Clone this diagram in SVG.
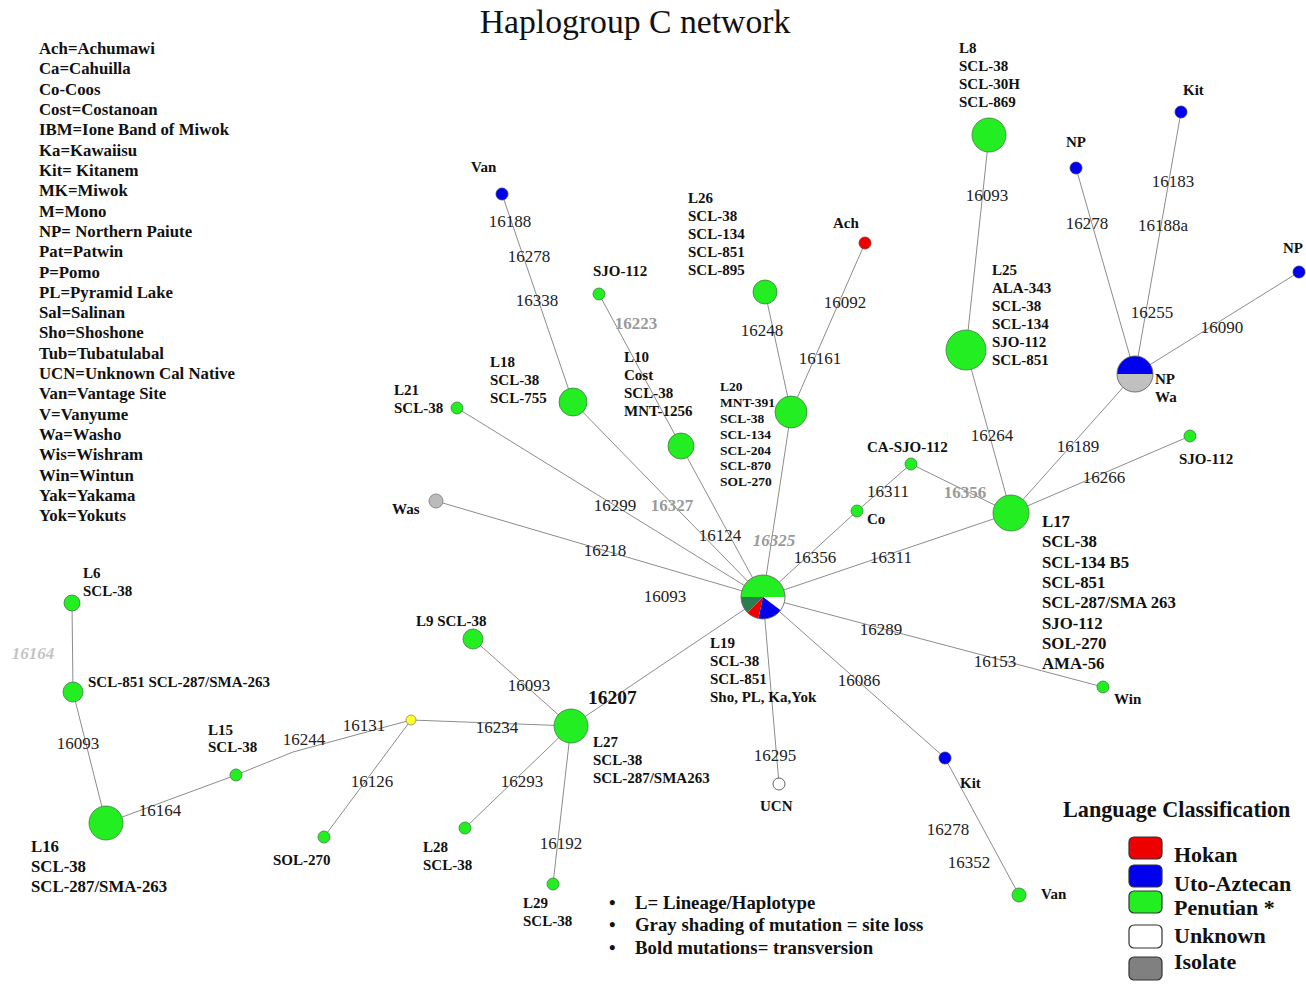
<svg xmlns="http://www.w3.org/2000/svg" width="1306" height="984" viewBox="0 0 1306 984">
<style>
text{font-family:"Liberation Serif","Times New Roman",serif;fill:#111}
.title{font-size:33.7px;text-anchor:middle}
.key{font-size:16.8px;font-weight:bold}
.t{font-size:15px;font-weight:bold}
.t13{font-size:13.5px;font-weight:bold}
.t16{font-size:16.8px;font-weight:bold}
.m{font-size:17px;text-anchor:middle;fill:#222}
.mg{font-size:17px;text-anchor:middle;fill:#9a9a9a;font-weight:bold}
.mgi{font-size:17px;text-anchor:middle;fill:#9a9a9a;font-weight:bold;font-style:italic}
.mli{font-size:17px;text-anchor:middle;fill:#c4c4c4;font-weight:bold;font-style:italic}
.mb{font-size:19.5px;font-weight:bold}
.bul{font-size:18.8px;font-weight:bold}
.lg{font-size:22.2px;font-weight:bold}
.lgl{font-size:22px;font-weight:bold}
.e{stroke:#8c8c8c;stroke-width:1;fill:none}
.n{stroke:#3f7f3f;stroke-width:0.8}
.g{fill:#22ee22}
.b{fill:#0000ee;stroke:#2a2a8a;stroke-width:0.8}
.r{fill:#ee0000;stroke:#8a2a2a;stroke-width:0.8}
.y{fill:#ffff33;stroke:#8a8a4a;stroke-width:0.8}
.w{fill:#ffffff;stroke:#555;stroke-width:0.9}
.s{fill:#bbbbbb;stroke:#777;stroke-width:0.8}
.sw{stroke:#333;stroke-width:1.2}
</style>

<text class="title" x="635" y="33">Haplogroup C network</text>

<g id="abbreviations">
<text class="key" x="39" y="54">Ach=Achumawi</text>
<text class="key" x="39" y="74">Ca=Cahuilla</text>
<text class="key" x="39" y="95">Co-Coos</text>
<text class="key" x="39" y="115">Cost=Costanoan</text>
<text class="key" x="39" y="135">IBM=Ione Band of Miwok</text>
<text class="key" x="39" y="156">Ka=Kawaiisu</text>
<text class="key" x="39" y="176">Kit= Kitanem</text>
<text class="key" x="39" y="196">MK=Miwok</text>
<text class="key" x="39" y="217">M=Mono</text>
<text class="key" x="39" y="237">NP= Northern Paiute</text>
<text class="key" x="39" y="257">Pat=Patwin</text>
<text class="key" x="39" y="278">P=Pomo</text>
<text class="key" x="39" y="298">PL=Pyramid Lake</text>
<text class="key" x="39" y="318">Sal=Salinan</text>
<text class="key" x="39" y="338">Sho=Shoshone</text>
<text class="key" x="39" y="359">Tub=Tubatulabal</text>
<text class="key" x="39" y="379">UCN=Unknown Cal Native</text>
<text class="key" x="39" y="399">Van=Vantage Site</text>
<text class="key" x="39" y="420">V=Vanyume</text>
<text class="key" x="39" y="440">Wa=Washo</text>
<text class="key" x="39" y="460">Wis=Wishram</text>
<text class="key" x="39" y="481">Win=Wintun</text>
<text class="key" x="39" y="501">Yak=Yakama</text>
<text class="key" x="39" y="521">Yok=Yokuts</text>
</g>

<g id="connectors">
<line class="e" x1="989" y1="135" x2="966" y2="350"/>
<line class="e" x1="966" y1="350" x2="1011" y2="513"/>
<line class="e" x1="1011" y1="513" x2="763" y2="597"/>
<line class="e" x1="1011" y1="513" x2="911" y2="464"/>
<line class="e" x1="911" y1="464" x2="857" y2="511"/>
<line class="e" x1="857" y1="511" x2="763" y2="597"/>
<line class="e" x1="1011" y1="513" x2="1135" y2="374"/>
<line class="e" x1="1011" y1="513" x2="1190" y2="436"/>
<line class="e" x1="1135" y1="374" x2="1076" y2="168"/>
<line class="e" x1="1135" y1="374" x2="1181" y2="112"/>
<line class="e" x1="1135" y1="374" x2="1299" y2="272"/>
<line class="e" x1="763" y1="597" x2="791" y2="412"/>
<line class="e" x1="791" y1="412" x2="765" y2="292"/>
<line class="e" x1="791" y1="412" x2="865" y2="243"/>
<line class="e" x1="763" y1="597" x2="681" y2="446"/>
<line class="e" x1="681" y1="446" x2="599" y2="294"/>
<line class="e" x1="763" y1="597" x2="573" y2="402"/>
<line class="e" x1="573" y1="402" x2="502" y2="194"/>
<line class="e" x1="763" y1="597" x2="457" y2="408"/>
<line class="e" x1="763" y1="597" x2="436" y2="501"/>
<line class="e" x1="763" y1="597" x2="571" y2="726"/>
<line class="e" x1="763" y1="597" x2="779" y2="784"/>
<line class="e" x1="763" y1="597" x2="945" y2="758"/>
<line class="e" x1="945" y1="758" x2="1019" y2="895"/>
<line class="e" x1="763" y1="597" x2="1103" y2="687"/>
<line class="e" x1="571" y1="726" x2="473" y2="639"/>
<line class="e" x1="571" y1="726" x2="411" y2="720"/>
<polyline class="e" points="411,720 293,752 236,775"/>
<line class="e" x1="411" y1="720" x2="324" y2="837"/>
<line class="e" x1="571" y1="726" x2="465" y2="828"/>
<line class="e" x1="571" y1="726" x2="553" y2="884"/>
<line class="e" x1="236" y1="775" x2="106" y2="823"/>
<line class="e" x1="106" y1="823" x2="73" y2="692"/>
<line class="e" x1="73" y1="692" x2="72" y2="603"/>
</g>

<g id="mutations">
<text class="m" x="987" y="201">16093</text>
<text class="m" x="1087" y="229">16278</text>
<text class="m" x="1173" y="187">16183</text>
<text class="m" x="1163" y="231">16188a</text>
<text class="m" x="1152" y="318">16255</text>
<text class="m" x="1222" y="333">16090</text>
<text class="m" x="992" y="441">16264</text>
<text class="m" x="1078" y="452">16189</text>
<text class="m" x="1104" y="483">16266</text>
<text class="mg" x="965" y="498">16356</text>
<text class="m" x="888" y="497">16311</text>
<text class="m" x="815" y="563">16356</text>
<text class="m" x="891" y="563">16311</text>
<text class="m" x="845" y="308">16092</text>
<text class="m" x="820" y="364">16161</text>
<text class="m" x="762" y="336">16248</text>
<text class="mg" x="636" y="329">16223</text>
<text class="m" x="510" y="227">16188</text>
<text class="m" x="529" y="262">16278</text>
<text class="m" x="537" y="306">16338</text>
<text class="m" x="615" y="511">16299</text>
<text class="mg" x="672" y="511">16327</text>
<text class="m" x="720" y="541">16124</text>
<text class="mgi" x="774" y="546">16325</text>
<text class="m" x="605" y="556">16218</text>
<text class="m" x="665" y="602">16093</text>
<text class="m" x="881" y="635">16289</text>
<text class="m" x="995" y="667">16153</text>
<text class="m" x="859" y="686">16086</text>
<text class="m" x="775" y="761">16295</text>
<text class="m" x="948" y="835">16278</text>
<text class="m" x="969" y="868">16352</text>
<text class="m" x="529" y="691">16093</text>
<text class="m" x="497" y="733">16234</text>
<text class="m" x="364" y="731">16131</text>
<text class="m" x="304" y="745">16244</text>
<text class="m" x="372" y="787">16126</text>
<text class="m" x="522" y="787">16293</text>
<text class="m" x="561" y="849">16192</text>
<text class="m" x="160" y="816">16164</text>
<text class="m" x="78" y="749">16093</text>
<text class="mli" x="33" y="659">16164</text>
<text class="mb" x="588" y="704">16207</text>
</g>

<g id="node-center">
<path d="M741,597 A22,22 0 0 1 785,597 Z" fill="#22ee22"/>
<path d="M763,597 L785,597 A22,22 0 0 1 780.6,610.2 Z" fill="#ffffff"/>
<path d="M763,597 L780.6,610.2 A22,22 0 0 1 758.4,618.5 Z" fill="#0000ee"/>
<path d="M763,597 L758.4,618.5 A22,22 0 0 1 747.4,612.6 Z" fill="#ee0000"/>
<path d="M763,597 L747.4,612.6 A22,22 0 0 1 741,597 Z" fill="#2b7d4f"/>
<circle cx="763" cy="597" r="22" fill="none" stroke="#666" stroke-width="0.9"/>
<text class="t" x="710" y="648">L19</text>
<text class="t" x="710" y="666">SCL-38</text>
<text class="t" x="710" y="684">SCL-851</text>
<text class="t" x="710" y="702">Sho, PL, Ka,Yok</text>
</g>

<g id="node-L8"><circle class="n g" cx="989" cy="135" r="17"/>
<text class="t" x="959" y="53">L8</text><text class="t" x="959" y="71">SCL-38</text><text class="t" x="959" y="89">SCL-30H</text><text class="t" x="959" y="107">SCL-869</text></g>

<g id="node-L25"><circle class="n g" cx="966" cy="350" r="20"/>
<text class="t" x="992" y="275">L25</text><text class="t" x="992" y="293">ALA-343</text><text class="t" x="992" y="311">SCL-38</text><text class="t" x="992" y="329">SCL-134</text><text class="t" x="992" y="347">SJO-112</text><text class="t" x="992" y="365">SCL-851</text></g>

<g id="node-L17"><circle class="n g" cx="1011" cy="513" r="18"/>
<text class="t16" x="1042" y="527">L17</text><text class="t16" x="1042" y="547">SCL-38</text><text class="t16" x="1042" y="568">SCL-134 B5</text><text class="t16" x="1042" y="588">SCL-851</text><text class="t16" x="1042" y="608">SCL-287/SMA 263</text><text class="t16" x="1042" y="629">SJO-112</text><text class="t16" x="1042" y="649">SOL-270</text><text class="t16" x="1042" y="669">AMA-56</text></g>

<g id="node-NPWa">
<path d="M1117,374 A18,18 0 0 1 1153,374 Z" fill="#0000ee"/>
<path d="M1117,374 A18,18 0 0 0 1153,374 Z" fill="#c0c0c0"/>
<circle cx="1135" cy="374" r="18" fill="none" stroke="#666" stroke-width="0.9"/>
<text class="t" x="1155" y="384">NP</text><text class="t" x="1155" y="402">Wa</text></g>

<g id="node-NP-top"><circle class="b" cx="1076" cy="168" r="6"/><text class="t" x="1066" y="147">NP</text></g>
<g id="node-Kit-top"><circle class="b" cx="1181" cy="112" r="6"/><text class="t" x="1183" y="95">Kit</text></g>
<g id="node-NP-right"><circle class="b" cx="1299" cy="272" r="6"/><text class="t" x="1283" y="253">NP</text></g>
<g id="node-SJO-right"><circle class="n g" cx="1190" cy="436" r="6"/><text class="t" x="1179" y="464">SJO-112</text></g>
<g id="node-CA-SJO"><circle class="n g" cx="911" cy="464" r="6"/><text class="t" x="867" y="452">CA-SJO-112</text></g>
<g id="node-Co"><circle class="n g" cx="857" cy="511" r="6"/><text class="t" x="867" y="524">Co</text></g>

<g id="node-Ach"><circle class="r" cx="865" cy="243" r="6"/><text class="t" x="833" y="228">Ach</text></g>
<g id="node-L26"><circle class="n g" cx="765" cy="292" r="12"/>
<text class="t" x="688" y="203">L26</text><text class="t" x="688" y="221">SCL-38</text><text class="t" x="688" y="239">SCL-134</text><text class="t" x="688" y="257">SCL-851</text><text class="t" x="688" y="275">SCL-895</text></g>
<g id="node-L20"><circle class="n g" cx="791" cy="412" r="16"/>
<text class="t13" x="720" y="391">L20</text><text class="t13" x="720" y="407">MNT-391</text><text class="t13" x="720" y="423">SCL-38</text><text class="t13" x="720" y="439">SCL-134</text><text class="t13" x="720" y="455">SCL-204</text><text class="t13" x="720" y="470">SCL-870</text><text class="t13" x="720" y="486">SOL-270</text></g>
<g id="node-SJO-112"><circle class="n g" cx="599" cy="294" r="6"/><text class="t" x="593" y="276">SJO-112</text></g>
<g id="node-L10"><circle class="n g" cx="681" cy="446" r="13"/>
<text class="t" x="624" y="362">L10</text><text class="t" x="624" y="380">Cost</text><text class="t" x="624" y="398">SCL-38</text><text class="t" x="624" y="416">MNT-1256</text></g>
<g id="node-L18"><circle class="n g" cx="573" cy="402" r="14"/>
<text class="t" x="490" y="367">L18</text><text class="t" x="490" y="385">SCL-38</text><text class="t" x="490" y="403">SCL-755</text></g>
<g id="node-Van-top"><circle class="b" cx="502" cy="194" r="6"/><text class="t" x="471" y="172">Van</text></g>
<g id="node-L21"><circle class="n g" cx="457" cy="408" r="6"/>
<text class="t" x="394" y="395">L21</text><text class="t" x="394" y="413">SCL-38</text></g>
<g id="node-Was"><circle class="s" cx="436" cy="501" r="7"/><text class="t" x="392" y="514">Was</text></g>

<g id="node-UCN"><circle class="w" cx="779" cy="784" r="6"/><text class="t" x="760" y="811">UCN</text></g>
<g id="node-Kit-bottom"><circle class="b" cx="945" cy="758" r="6"/><text class="t" x="960" y="788">Kit</text></g>
<g id="node-Van-bottom"><circle class="n g" cx="1019" cy="895" r="7"/><text class="t" x="1041" y="899">Van</text></g>
<g id="node-Win"><circle class="n g" cx="1103" cy="687" r="6"/><text class="t" x="1114" y="704">Win</text></g>

<g id="node-L27"><circle class="n g" cx="571" cy="726" r="17"/>
<text class="t" x="593" y="747">L27</text><text class="t" x="593" y="765">SCL-38</text><text class="t" x="593" y="783">SCL-287/SMA263</text></g>
<g id="node-L9"><circle class="n g" cx="473" cy="639" r="10"/><text class="t" x="416" y="626">L9 SCL-38</text></g>
<g id="node-median"><circle class="y" cx="411" cy="720" r="5"/></g>
<g id="node-SOL-270"><circle class="n g" cx="324" cy="837" r="6"/><text class="t" x="273" y="865">SOL-270</text></g>
<g id="node-L28"><circle class="n g" cx="465" cy="828" r="6"/>
<text class="t" x="423" y="852">L28</text><text class="t" x="423" y="870">SCL-38</text></g>
<g id="node-L29"><circle class="n g" cx="553" cy="884" r="6"/>
<text class="t" x="523" y="908">L29</text><text class="t" x="523" y="926">SCL-38</text></g>
<g id="node-L15"><circle class="n g" cx="236" cy="775" r="6"/>
<text class="t" x="208" y="735">L15</text><text class="t" x="208" y="752">SCL-38</text></g>
<g id="node-L16"><circle class="n g" cx="106" cy="823" r="17"/>
<text class="t16" x="31" y="852">L16</text><text class="t16" x="31" y="872">SCL-38</text><text class="t16" x="31" y="892">SCL-287/SMA-263</text></g>
<g id="node-SCL-851"><circle class="n g" cx="73" cy="692" r="10"/><text class="t" x="88" y="687">SCL-851 SCL-287/SMA-263</text></g>
<g id="node-L6"><circle class="n g" cx="72" cy="603" r="8"/>
<text class="t" x="83" y="578">L6</text><text class="t" x="83" y="596">SCL-38</text></g>

<g id="notes">
<text class="bul" x="609" y="909">•</text><text class="bul" x="635" y="909">L= Lineage/Haplotype</text>
<text class="bul" x="609" y="931">•</text><text class="bul" x="635" y="931">Gray shading of mutation = site loss</text>
<text class="bul" x="609" y="954">•</text><text class="bul" x="635" y="954">Bold mutations= transversion</text>
</g>

<g id="legend">
<text class="lg" x="1063" y="817">Language Classification</text>
<rect class="sw" x="1129" y="837" width="33" height="22" rx="5" fill="#ee0000"/>
<rect class="sw" x="1129" y="865" width="33" height="22" rx="5" fill="#0000ee"/>
<rect class="sw" x="1129" y="891" width="33" height="22" rx="5" fill="#22ee22"/>
<rect class="sw" x="1129" y="925" width="33" height="23" rx="5" fill="#ffffff"/>
<rect class="sw" x="1129" y="957" width="33" height="23" rx="5" fill="#808080"/>
<text class="lgl" x="1174" y="862">Hokan</text>
<text class="lgl" x="1174" y="891">Uto-Aztecan</text>
<text class="lgl" x="1174" y="915">Penutian *</text>
<text class="lgl" x="1174" y="943">Unknown</text>
<text class="lgl" x="1174" y="969">Isolate</text>
</g>
</svg>
